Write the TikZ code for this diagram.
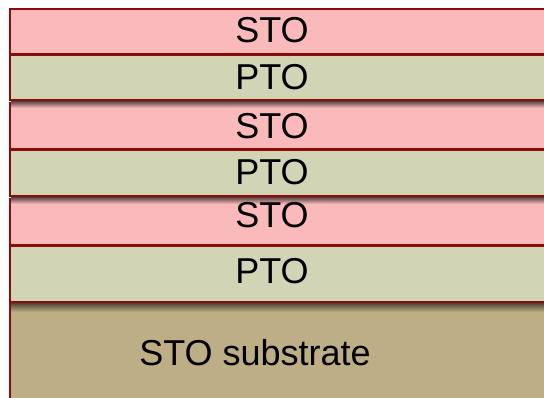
\documentclass[tikz,border=0pt]{standalone}
\usepackage{fontspec}
\setmainfont{Liberation Sans}
\definecolor{stofill}{RGB}{250,185,186}
\definecolor{ptofill}{RGB}{210,213,181}
\definecolor{subfill}{RGB}{190,174,134}
\definecolor{edge}{RGB}{140,10,10}
\begin{document}
\begin{tikzpicture}[x=1pt,y=-1pt,
  layer/.style={draw=edge, line width=2pt, inner sep=0pt, outer sep=0pt,
                anchor=north west, minimum width=560pt},
  layertext/.style={font=\fontsize{36}{40}\selectfont, inner sep=0pt, text=black}]
\useasboundingbox (0,0) rectangle (544,397);
\clip (0,0) rectangle (544,397);

% film stack, top to bottom
\node[layer, fill=stofill, minimum height=45.5pt] (sto1) at (10,8.5) {};
\node[layer, fill=ptofill, minimum height=45.5pt] (pto1) at (10,54.5) {};
\node[layer, fill=stofill, minimum height=46pt]   (sto2) at (10,103) {};
\node[layer, fill=ptofill, minimum height=46.5pt] (pto2) at (10,149.5) {};
\node[layer, fill=stofill, minimum height=46pt]   (sto3) at (10,199) {};
\node[layer, fill=ptofill, minimum height=56.5pt] (pto3) at (10,245.5) {};
\node[layer, fill=subfill, minimum height=110pt]  (sub)  at (10,302) {};

% soft shadows under the PTO layers
\shade[top color=stofill!35!black, bottom color=stofill]
  ([xshift=1pt,yshift=-1pt]pto1.south west) rectangle ++(560,7);
\shade[top color=stofill!35!black, bottom color=stofill]
  ([xshift=1pt,yshift=-1pt]pto2.south west) rectangle ++(560,7);
\shade[top color=subfill!40!black, bottom color=subfill]
  ([xshift=1pt,yshift=-1pt]pto3.south west) rectangle ++(560,9);

% layer names
\node[layertext] (t1) at (272,30)    {STO};
\node[layertext] (t2) at (272,77.5)  {PTO};
\node[layertext] (t3) at (272,126)   {STO};
\node[layertext] (t4) at (272,172.5) {PTO};
\node[layertext] (t5) at (272,215)   {STO};
\node[layertext] (t6) at (272,271)   {PTO};
\node[layertext] (t7) at (255,353)   {STO substrate};
\end{tikzpicture}
\end{document}
